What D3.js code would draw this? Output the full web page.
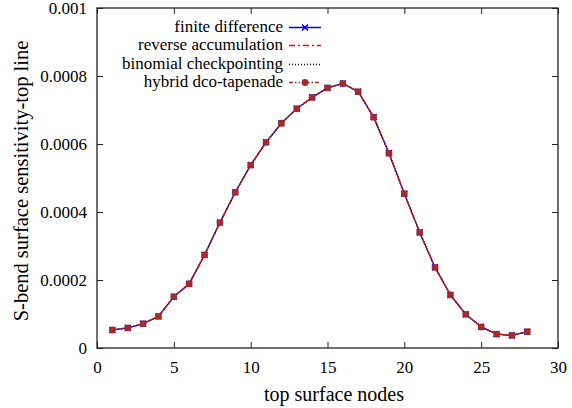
<!DOCTYPE html>
<html><head><meta charset="utf-8">
<script src="https://cdn.jsdelivr.net/npm/d3@7"></script>
<style>
html,body{margin:0;padding:0;background:#fff;}
svg text{font-family:"Liberation Serif","Times New Roman",serif !important;fill:#000;}
</style></head>
<body>
<svg id="chart" width="572" height="408" font-family="Liberation Serif"></svg>
<script>
const nodes = [1,2,3,4,5,6,7,8,9,10,11,12,13,14,15,16,17,18,19,20,21,22,23,24,25,26,27,28];
const finiteDifference = [0.000053,0.000059,0.0000715,0.000093,0.000151,0.000189,0.000274,0.000369,0.000458,0.000538,0.000605,0.000661,0.000704,0.000737,0.000765,0.000778,0.000754,0.000679,0.000573,0.000454,0.00034,0.000237,0.000156,0.000099,0.000062,0.000041,0.000037,0.000048];
const reverseAccumulation = [0.000053,0.000059,0.0000715,0.000093,0.000151,0.000189,0.000274,0.000369,0.000458,0.000538,0.000605,0.000661,0.000704,0.000737,0.000765,0.000778,0.000754,0.000679,0.000573,0.000454,0.00034,0.000237,0.000156,0.000099,0.000062,0.000041,0.000037,0.000048];
const binomialCheckpointing = [0.000053,0.000059,0.0000715,0.000093,0.000151,0.000189,0.000274,0.000369,0.000458,0.000538,0.000605,0.000661,0.000704,0.000737,0.000765,0.000778,0.000754,0.000679,0.000573,0.000454,0.00034,0.000237,0.000156,0.000099,0.000062,0.000041,0.000037,0.000048];
const hybridDcoTapenade = [0.000053,0.000059,0.0000715,0.000093,0.000151,0.000189,0.000274,0.000369,0.000458,0.000538,0.000605,0.000661,0.000704,0.000737,0.000765,0.000778,0.000754,0.000679,0.000573,0.000454,0.00034,0.000237,0.000156,0.000099,0.000062,0.000041,0.000037,0.000048];
const seriesNames = ["finite difference","reverse accumulation","binomial checkpointing","hybrid dco-tapenade"];
const xTicks = [0,5,10,15,20,25,30];
const yTicks = [0,0.0002,0.0004,0.0006,0.0008,0.001];
const yTickLabels = ["0","0.0002","0.0004","0.0006","0.0008","0.001"];
const xLabel = "top surface nodes";
const yLabel = "S-bend surface sensitivity-top line";

const FONT = '"Liberation Serif","Times New Roman",serif';
const svg = d3.select("#chart");
const L=97, R=558, T=8, B=348;
const x = d3.scaleLinear().domain([0,30]).range([L,R]);
const y = d3.scaleLinear().domain([0,0.001]).range([B,T]);

const series = [
  {name:seriesNames[0], vals:finiteDifference, color:"#0000ff", dash:null, marker:"x", w:1.3},
  {name:seriesNames[1], vals:reverseAccumulation, color:"#ff0000", dash:"6,3,2,3", marker:null, w:1.3},
  {name:seriesNames[2], vals:binomialCheckpointing, color:"#000000", dash:"1,2", marker:null, w:1.1},
  {name:seriesNames[3], vals:hybridDcoTapenade, color:"#a52a2a", dash:"4,2,1.5,2,1.5,2", marker:"o", w:1.4}
];

const tickLen = 6;
const axisColor = "#222";
const gx = svg.append("g").attr("transform",`translate(0,${B})`)
  .call(d3.axisBottom(x).tickValues(xTicks).tickSize(-tickLen).tickPadding(10).tickFormat(d3.format("d")));
const gxt = svg.append("g").attr("transform",`translate(0,${T})`)
  .call(d3.axisTop(x).tickValues(xTicks).tickSize(-tickLen).tickFormat(""));
const gy = svg.append("g").attr("transform",`translate(${L},0)`)
  .call(d3.axisLeft(y).tickValues(yTicks).tickSize(-tickLen).tickPadding(10).tickFormat((d,i)=>yTickLabels[i]));
const gyr = svg.append("g").attr("transform",`translate(${R},0)`)
  .call(d3.axisRight(y).tickValues(yTicks).tickSize(-tickLen).tickFormat(""));
[gx,gxt,gy,gyr].forEach(g=>{
  g.attr("font-family",FONT).attr("font-size",17);
  g.select(".domain").remove();
  g.selectAll(".tick line").attr("stroke",axisColor).attr("stroke-width",1);
  g.selectAll(".tick text").attr("font-family",FONT).attr("font-size",17).attr("fill","#000");
});
gx.selectAll(".tick text").attr("dy","0.9em");
svg.append("rect").attr("x",L).attr("y",T).attr("width",R-L).attr("height",B-T)
  .attr("fill","none").attr("stroke",axisColor).attr("stroke-width",1.3);

const line = d3.line().x((d,i)=>x(nodes[i])).y(d=>y(d));
function drawMarker(g, type, cx, cy, color){
  if(type==="x"){
    const s=3;
    g.append("path").attr("d",`M${cx-s},${cy-s}L${cx+s},${cy+s}M${cx-s},${cy+s}L${cx+s},${cy-s}`)
      .attr("stroke",color).attr("stroke-width",1.6).attr("fill","none");
  } else if(type==="o"){
    g.append("circle").attr("cx",cx).attr("cy",cy).attr("r",3.4).attr("fill",color);
  }
}
series.forEach(s=>{
  const g = svg.append("g");
  g.append("path").datum(s.vals).attr("d",line).attr("fill","none")
    .attr("stroke",s.color).attr("stroke-width",s.w).attr("stroke-dasharray",s.dash);
  if(s.marker) s.vals.forEach((v,i)=>drawMarker(g,s.marker,x(nodes[i]),y(v),s.color));
});

const legY0 = 27, legDy = 18.3, textRight = 283, lx0 = 289, lx1 = 321;
series.forEach((s,i)=>{
  const yy = Math.round(legY0 + i*legDy);
  svg.append("text").attr("x",textRight).attr("y",yy).attr("dy","0.32em")
    .attr("text-anchor","end").attr("font-family",FONT).attr("font-size",17).text(s.name);
  svg.append("line").attr("x1",lx0).attr("x2",lx1).attr("y1",yy+0.5).attr("y2",yy+0.5)
    .attr("stroke",s.color).attr("stroke-width",1.5).attr("stroke-dasharray",s.dash);
  if(s.marker) drawMarker(svg,s.marker,(lx0+lx1)/2,yy+0.5,s.color);
});

svg.append("text").attr("x",334).attr("y",394).attr("dy","0.35em").attr("text-anchor","middle")
  .attr("font-family",FONT).attr("font-size",20).text(xLabel);
svg.append("text").attr("transform",`translate(21,181) rotate(-90)`).attr("dy","0.35em")
  .attr("text-anchor","middle").attr("font-family",FONT).attr("font-size",20.5).text(yLabel);
</script>
</body></html>
